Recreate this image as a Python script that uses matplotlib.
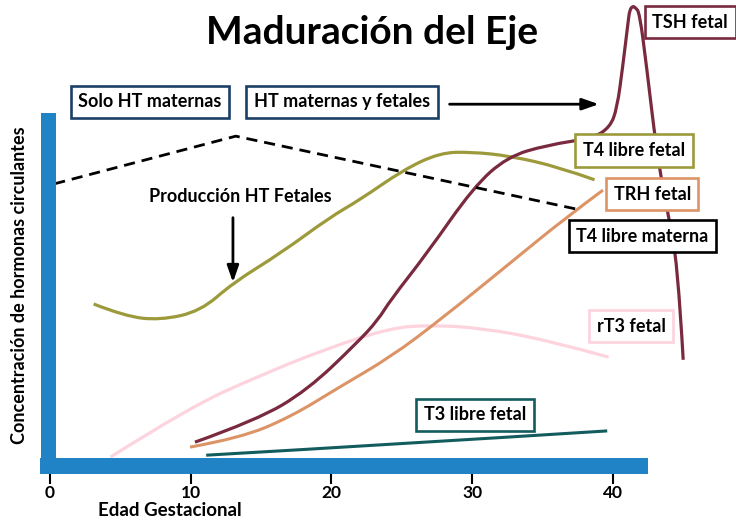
import matplotlib
matplotlib.use("Agg")
import matplotlib.pyplot as plt
from matplotlib.path import Path
from matplotlib.patches import PathPatch

plt.rcParams['font.family'] = ['Lato', 'DejaVu Sans']

# semanas de gestacion / concentracion relativa
t4_fetal_x = [3.1, 5.3, 7.8, 10.7, 13.0, 16.4, 19.9, 22.0, 25.1, 27.7, 29.9, 32.7, 36.2, 38.7]
t4_fetal_y = [36.0, 33.3, 32.4, 34.4, 40.7, 47.3, 55.3, 59.1, 65.8, 69.6, 69.8, 68.9, 66.4, 63.6]

tsh_x = [10.3, 14.7, 18.3, 21.8, 23.3, 24.2, 26.8, 30.1, 32.5, 35.3, 38.6, 39.8, 40.3,
         40.7, 41.1, 41.2, 41.4, 41.6, 41.9, 42.4, 43.1, 43.8, 44.6, 45.0]
tsh_y = [5.3, 10.2, 16.9, 27.3, 32.4, 36.9, 47.3, 62.0, 68.7, 71.3, 72.9, 75.3, 79.5,
         88.7, 99.1, 101.3, 102.2, 101.9, 100.7, 88.7, 70.2, 57.6, 45.8, 23.6]

trh_x = [9.95, 13.5, 17.1, 20.6, 24.2, 27.7, 32.7, 36.7, 39.3]
trh_y = [4.2, 6.2, 10.9, 17.6, 24.2, 32.4, 45.1, 55.3, 61.3]

rt3_x = [4.3, 9.95, 14.7, 19.4, 24.2, 27.0, 30.6, 35.3, 39.7]
rt3_y = [2.0, 13.1, 19.8, 25.8, 30.7, 31.3, 30.7, 28.0, 24.2]

t3_x = [11.1, 24.9, 39.6]
t3_y = [2.4, 4.9, 7.8]

t4_mat_x = [0.3, 13.2, 37.7]
t4_mat_y = [62.7, 73.3, 56.9]

ticks = [0, 10, 20, 30, 40]

BLUE = "#1f83c6"
OLIVE = "#9d9a3b"
MAROON = "#7a2a3f"
TAN = "#dc9466"
PINK = "#fdd3de"
TEAL = "#135c5e"
NAVY = "#1c3f66"


def smooth_line(ax, xs, ys, color, lw):
    # curva suave: puntos como control de cuadraticas entre puntos medios
    pts = list(zip(xs, ys))
    verts = [pts[0]]
    codes = [Path.MOVETO]
    for i in range(1, len(pts) - 1):
        mid = ((pts[i][0] + pts[i + 1][0]) / 2, (pts[i][1] + pts[i + 1][1]) / 2)
        if i == len(pts) - 2:
            mid = pts[-1]
        verts += [pts[i], mid]
        codes += [Path.CURVE3, Path.CURVE3]
    if len(pts) == 2:
        verts.append(pts[1])
        codes.append(Path.LINETO)
    ax.add_patch(PathPatch(Path(verts, codes), fc='none', ec=color, lw=lw, capstyle='butt'))


fig = plt.figure(figsize=(7.36, 5.23), dpi=100)
ax = fig.add_axes([47.5 / 736, 57 / 523, 656.8 / 736, 463.5 / 523])
ax.set_xlim(-0.18, 46.5)
ax.set_ylim(0, 103)

smooth_line(ax, rt3_x, rt3_y, PINK, 2.3)
smooth_line(ax, t3_x, t3_y, TEAL, 2.2)
smooth_line(ax, trh_x, trh_y, TAN, 2.2)
smooth_line(ax, t4_fetal_x, t4_fetal_y, OLIVE, 2.3)
smooth_line(ax, tsh_x, tsh_y, MAROON, 2.3)
ax.plot(t4_mat_x, t4_mat_y, color='black', lw=2.0, dashes=(4, 2.5))

# ejes gruesos azules
for s in ['top', 'right']:
    ax.spines[s].set_visible(False)
ax.spines['left'].set_linewidth(10.8)
ax.spines['left'].set_color(BLUE)
ax.spines['left'].set_bounds(0, 77.0)
ax.spines['bottom'].set_linewidth(11.5)
ax.spines['bottom'].set_color(BLUE)
ax.spines['bottom'].set_bounds(-0.18, 41.9)
for s in ['left', 'bottom']:
    ax.spines[s].set_zorder(3)
ax.xaxis.set_zorder(1)

ax.set_xticks(ticks)
ax.set_xticklabels([str(t) for t in ticks], fontsize=12.5, fontweight='bold')
ax.tick_params(axis='x', direction='out', length=13, width=1.5, color='black', pad=1)
ax.set_yticks([])

fig.text(372 / 736, 1 - 32 / 523, "Maduración del Eje", fontsize=28, fontweight='bold',
         ha='center', va='center')
fig.text(170 / 736, 1 - 511 / 523, "Edad Gestacional", fontsize=13.5, fontweight='bold',
         ha='center', va='center')
fig.text(20 / 736, 1 - 285 / 523, "Concentración de hormonas circulantes", fontsize=13,
         fontweight='bold', rotation=90, ha='center', va='center')


def box(x, y, txt, color):
    ax.text(x, y, txt, fontsize=13, fontweight='bold', ha='center', va='center',
            bbox=dict(boxstyle='square,pad=0.42', fc='white', ec=color, lw=1.9), zorder=5)


box(7.1, 80.9, "Solo HT maternas", NAVY)
box(20.75, 80.9, "HT maternas y fetales", NAVY)
box(45.5, 98.6, "TSH fetal", MAROON)
box(41.5, 70.1, "T4 libre fetal", OLIVE)
box(42.8, 60.4, "TRH fetal", TAN)
box(42.1, 51.1, "T4 libre materna", 'black')
box(41.3, 31.1, "rT3 fetal", PINK)
box(30.2, 11.4, "T3 libre fetal", TEAL)

ax.text(13.5, 59.8, "Producción HT Fetales", fontsize=13, fontweight='bold',
        ha='center', va='center')
ax.annotate("", xy=(13.0, 40.2), xytext=(13.0, 55.8),
            arrowprops=dict(arrowstyle='-|>,head_width=0.35,head_length=1.0', color='black', lw=2))
ax.annotate("", xy=(39.2, 80.4), xytext=(28.2, 80.4),
            arrowprops=dict(arrowstyle='-|>,head_width=0.35,head_length=1.0', color='black', lw=2))

fig.savefig("out.png", dpi=100)
